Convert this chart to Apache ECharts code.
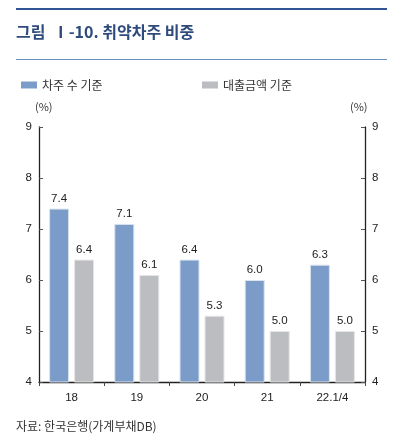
<!DOCTYPE html>
<html><head><meta charset="utf-8">
<script src="https://cdn.jsdelivr.net/npm/echarts@6/dist/echarts.min.js"></script>
<style>html,body{margin:0;padding:0;background:#fff}#c{width:395px;height:443px}</style>
</head><body><div id="c"></div>
<script>
const categories = ['18', '19', '20', '21', '22.1/4'];
const borrowers = [7.4, 7.1, 6.4, 6.0, 6.3];
const loanAmount = [6.4, 6.1, 5.3, 5.0, 5.0];
const seriesNames = ['차주 수 기준', '대출금액 기준'];
const yTicks = [4, 5, 6, 7, 8, 9];

const font = '"Noto Sans CJK KR", "Noto Sans", sans-serif';
const numFont = 'Liberation Sans, Arial, sans-serif';
const chart = echarts.init(document.getElementById('c'));
const yAxisBase = {
  type: 'value', min: yTicks[0], max: yTicks[yTicks.length - 1], interval: 1,
  axisLine: {show: true, lineStyle: {color: '#222', width: 1.3}},
  axisTick: {show: true, inside: true, length: 4, lineStyle: {color: '#555'}},
  splitLine: {show: false},
  axisLabel: {color: '#222', fontSize: 11.5, fontFamily: numFont, margin: 7}
};
const legendBase = {itemWidth: 16, itemHeight: 7, icon: 'rect', top: 74,
  itemStyle: {borderWidth: 0}, textStyle: {fontSize: 12, color: '#333', fontFamily: font}};
chart.setOption({
  animation: false,
  textStyle: {fontFamily: font},
  grid: {left: 39, right: 30, top: 127, bottom: 61},
  legend: [
    Object.assign({data: [seriesNames[0]], left: 16}, legendBase),
    Object.assign({data: [seriesNames[1]], left: 197}, legendBase)
  ],
  xAxis: {
    type: 'category', data: categories,
    axisLine: {lineStyle: {color: '#222', width: 1.3}},
    axisTick: {show: true, length: 4, lineStyle: {color: '#444'}},
    axisLabel: {color: '#222', fontSize: 11.5, fontFamily: numFont, margin: 10}
  },
  yAxis: [
    Object.assign({}, yAxisBase, {position: 'left'}),
    Object.assign({}, yAxisBase, {position: 'right'})
  ],
  series: [
    {name: seriesNames[0], type: 'bar', data: borrowers, barWidth: 20, barGap: '25%',
     itemStyle: {color: '#7b9cc9', borderColor: '#dbe3ef', borderWidth: 1},
     label: {show: true, position: 'top', distance: 4, color: '#222', fontSize: 11.5,
       fontFamily: numFont, formatter: p => p.value.toFixed(1)}},
    {name: seriesNames[1], type: 'bar', data: loanAmount, barWidth: 20,
     itemStyle: {color: '#bcbdc0', borderColor: '#e6e6e8', borderWidth: 1},
     label: {show: true, position: 'top', distance: 4, color: '#222', fontSize: 11.5,
       fontFamily: numFont, formatter: p => p.value.toFixed(1)}}
  ],
  graphic: [
    {type: 'rect', shape: {x: 16, y: 8, width: 371, height: 2}, style: {fill: '#2f5597'}},
    {type: 'text', left: 16, top: 24, style: {text: '그림  Ⅰ-10. 취약차주 비중', fill: '#2f4b7c',
      font: 'bold 16px ' + font}},
    {type: 'rect', shape: {x: 16, y: 59, width: 371, height: 1}, style: {fill: '#6d8fbf'}},
    {type: 'text', left: 35, top: 101, style: {text: '(%)', fill: '#333', font: '11px ' + font}},
    {type: 'text', left: 350, top: 101, style: {text: '(%)', fill: '#333', font: '11px ' + font}},
    {type: 'text', left: 16, top: 420, style: {text: '자료: 한국은행(가계부채DB)', fill: '#333', font: '12px ' + font}}
  ]
});
</script></body></html>
